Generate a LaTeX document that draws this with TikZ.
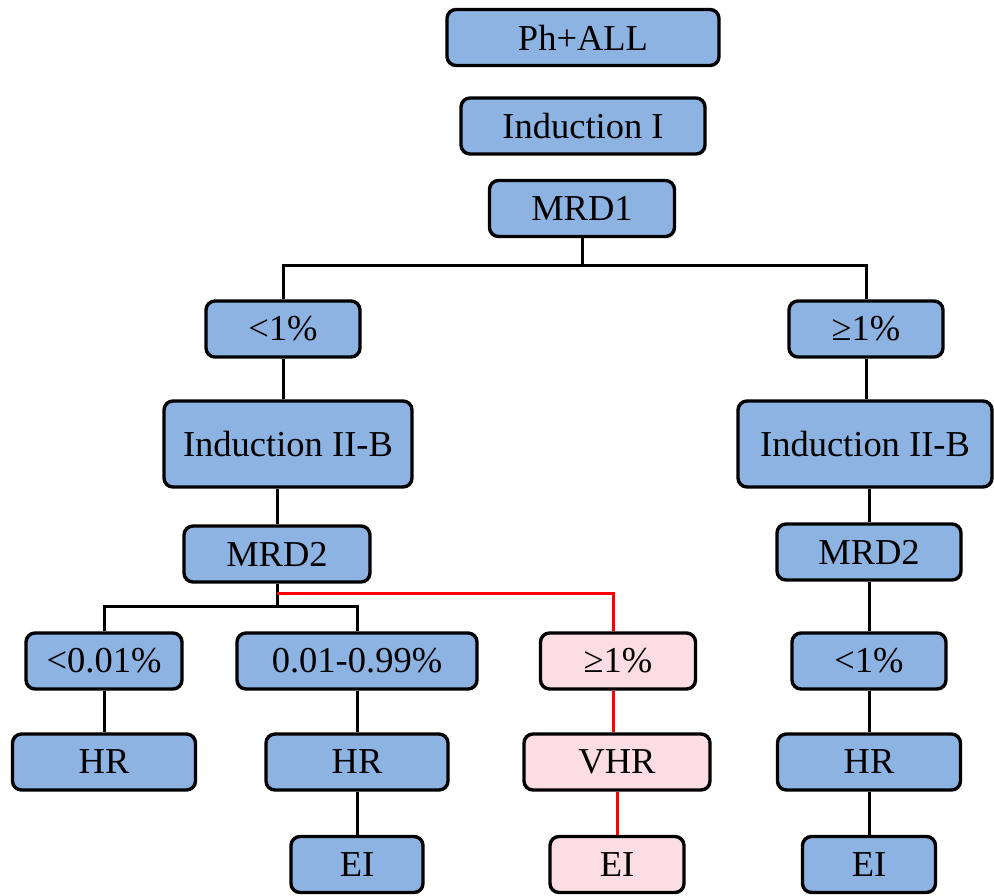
\documentclass[tikz,border=0pt]{standalone}
\usepackage{fontspec}
\setmainfont{Liberation Serif}
\definecolor{boxblue}{RGB}{141,179,226}
\definecolor{boxpink}{RGB}{253,221,228}
\begin{document}
\begin{tikzpicture}[x=1pt,y=-1pt,
  bx/.style={draw=black, line width=3.4pt, rounded corners=9pt, fill=boxblue, inner sep=0pt,
    font=\fontsize{36.5}{36.5}\selectfont, minimum height=56pt},
  pk/.style={bx, fill=boxpink},
  conn/.style={draw=black, line width=3pt},
  rconn/.style={draw=red, line width=3pt}]
\useasboundingbox (0,0) rectangle (994,895);
% top
\node[bx, minimum width=272pt] (ph) at (583,37.5) {Ph+ALL};
\node[bx, minimum width=244pt] (ind1) at (583,126) {Induction I};
\node[bx, minimum width=185pt] (mrd1) at (582,208.5) {MRD1};
% level 2
\node[bx, minimum width=154pt] (lt1) at (283,329) {<1\%};
\node[bx, minimum width=154pt] (ge1) at (866,329) {≥1\%};
\node[bx, minimum width=248pt, minimum height=86pt] (indl) at (288,444) {Induction II-B};
\node[bx, minimum width=254pt, minimum height=86pt] (indr) at (865,444) {Induction II-B};
\node[bx, minimum width=186pt] (mrd2l) at (277,554) {MRD2};
\node[bx, minimum width=184pt] (mrd2r) at (869,552) {MRD2};
% level 3
\node[bx, minimum width=156pt] (a1) at (104,661) {<0.01\%};
\node[bx, minimum width=240pt] (a2) at (357,661) {0.01-0.99\%};
\node[pk, minimum width=155pt] (a3) at (618,661) {≥1\%};
\node[bx, minimum width=154pt] (a4) at (869,661) {<1\%};
\node[bx, minimum width=183pt] (h1) at (104,762) {HR};
\node[bx, minimum width=182pt] (h2) at (357,762) {HR};
\node[pk, minimum width=186pt] (h3) at (617,762) {VHR};
\node[bx, minimum width=183pt] (h4) at (869,762) {HR};
\node[bx, minimum width=132pt] (e2) at (357,864.5) {EI};
\node[pk, minimum width=134pt] (e3) at (617,864.5) {EI};
\node[bx, minimum width=133pt] (e4) at (869,864.5) {EI};
% coordinates
\coordinate (j1) at (582,265);
\coordinate (j2) at (277,606);
\coordinate (j3) at (277,593);
% connectors
\draw[conn] (mrd1.south) -- (j1);
\draw[conn] (lt1.north) |- (j1) -| (ge1.north);
\draw[conn] (lt1.south) -- (lt1.south |- indl.north);
\draw[conn] (ge1.south) -- (ge1.south |- indr.north);
\draw[conn] (mrd2l.north |- indl.south) -- (mrd2l.north);
\draw[conn] (mrd2r.north |- indr.south) -- (mrd2r.north);
\draw[conn] (mrd2r.south) -- (a4.north);
\draw[conn] (mrd2l.south) -- (j2);
\draw[conn] (a1.north) |- (j2) -| (a2.north);
\draw[conn] (a1.south) -- (h1.north);
\draw[conn] (a2.south) -- (h2.north);
\draw[conn] (h2.south) -- (e2.north);
\draw[conn] (a4.south) -- (h4.north);
\draw[conn] (h4.south) -- (e4.north);
\draw[rconn] (j3) -| ([xshift=-5pt]a3.north);
\draw[rconn] ([xshift=-5pt]a3.south) -- ([xshift=-5pt]a3.south |- h3.north);
\draw[rconn] (h3.south -| e3.north) -- (e3.north);
\end{tikzpicture}
\end{document}
